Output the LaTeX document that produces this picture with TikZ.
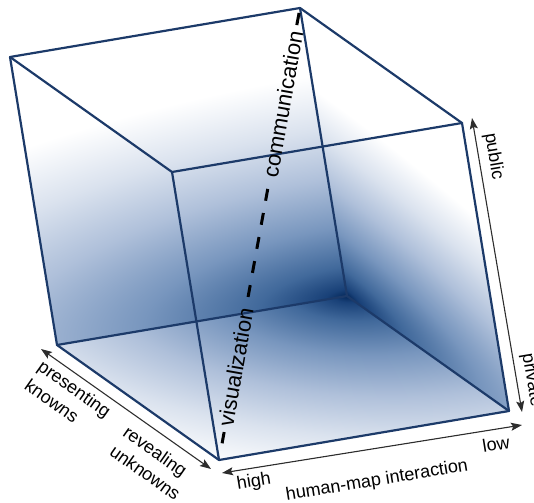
\documentclass[tikz,border=0pt]{standalone}
\usepackage{fontspec}
\setmainfont{Liberation Sans}
\usetikzlibrary{arrows.meta,calc}

\definecolor{edgeblue}{RGB}{28,58,105}
\definecolor{axisgray}{RGB}{45,45,45}
\definecolor{shA}{RGB}{5,40,90}
\definecolor{shB}{RGB}{25,65,120}
\definecolor{shC}{RGB}{65,105,155}
\definecolor{shD}{RGB}{120,150,190}
\definecolor{shE}{RGB}{175,192,218}
\definecolor{shF}{RGB}{218,226,238}

\pgfdeclareradialshading{cubeshade}{\pgfpoint{0bp}{0bp}}{%
 color(0bp)=(shA); color(0.75bp)=(shB); color(3bp)=(shC); color(7bp)=(shD);
 color(12bp)=(shE); color(17bp)=(shF); color(22.5bp)=(white); color(50bp)=(white)}

\begin{document}
\begin{tikzpicture}[x=1pt,y=-1pt,
  edge/.style={draw=edgeblue,line width=2.2pt,line join=round,line cap=round},
  axis/.style={draw=axisgray,line width=1.1pt,{Stealth[length=11pt,width=8pt,inset=2pt]}-{Stealth[length=11pt,width=8pt,inset=2pt]}},
  axislabel/.style={font=\fontsize{18}{23}\selectfont,text=black,inner sep=0pt},
  cubelabel/.style={font=\fontsize{22}{26}\selectfont,text=black,inner sep=0pt},
  dashline/.style={draw=black,line width=3pt}
]
\useasboundingbox (0,0) rectangle (534,502);
\coordinate (A) at (10,57);
\coordinate (B) at (300,8);
\coordinate (G) at (172,172);
\coordinate (C) at (462,123);
\coordinate (F) at (57,345);
\coordinate (H) at (347,296);
\coordinate (E) at (219,460);
\coordinate (D) at (509,411);

% back wall
\begin{scope}[transform canvas={cm={-2.90,-0.49,-0.47,2.88,(347pt,-296pt)}}]
  \clip (0pt,0pt) rectangle (100pt,100pt);
  \shade[shading=cubeshade] (-250pt,-85pt) rectangle (250pt,85pt);
\end{scope}
% floor
\begin{scope}[transform canvas={cm={-2.90,-0.49,1.62,-1.15,(347pt,-296pt)}}]
  \clip (0pt,0pt) rectangle (100pt,100pt);
  \shade[shading=cubeshade] (-155pt,-170pt) rectangle (155pt,170pt);
\end{scope}
% right wall
\begin{scope}[transform canvas={cm={-0.47,2.88,1.62,-1.15,(347pt,-296pt)}}]
  \clip (0pt,0pt) rectangle (100pt,100pt);
  \shade[shading=cubeshade] (-80pt,-300pt) rectangle (80pt,300pt);
\end{scope}

\draw[edge] (A) -- (B) -- (C) -- (D) -- (E) -- (F) -- cycle;
\draw[edge] (G) -- (A) (G) -- (C) (G) -- (E);
\draw[edge] (H) -- (B) (H) -- (F) (H) -- (D);

\node[cubelabel, rotate=80] (vis) at ($(E)!0.2058!(B)$) {visualization};
\node[cubelabel, rotate=80] (com) at ($(E)!0.7876!(B)$) {communication};
\draw[dashline, shorten <=17pt, shorten >=6pt] (E) -- (vis.west);
\draw[dashline, dash pattern=on 12pt off 12.45pt, shorten <=11pt, shorten >=12pt] (vis.east) -- (com.west);
\draw[dashline, shorten <=6pt, shorten >=5pt] (com.east) -- (B);

\coordinate (L1) at (41,349); \coordinate (L2) at (211,469);
\coordinate (M1) at (222,473); \coordinate (M2) at (522,425);
\coordinate (R1) at (472,118); \coordinate (R2) at (522,412);
\draw[axis] (L1) -- (L2);
\draw[axis] (M1) -- (M2);
\draw[axis] (R1) -- (R2);

\node[axislabel, rotate=-35.2, align=left] (pk) at (68,398) {presenting\\knowns};
\node[axislabel, rotate=-35.2, align=left] (ru) at (152,463) {revealing\\unknowns};
\node[axislabel, rotate=9.3] (hi) at (254,482) {high};
\node[axislabel, rotate=9.3] (hm) at (377,481) {human-map interaction};
\node[axislabel, rotate=9.3] (lo) at (496,444) {low};
\node[axislabel, rotate=-80.4] (pu) at (493.5,156.5) {public};
\node[axislabel, rotate=-80.4] (pr) at (531.5,380) {private};
\end{tikzpicture}
\end{document}
